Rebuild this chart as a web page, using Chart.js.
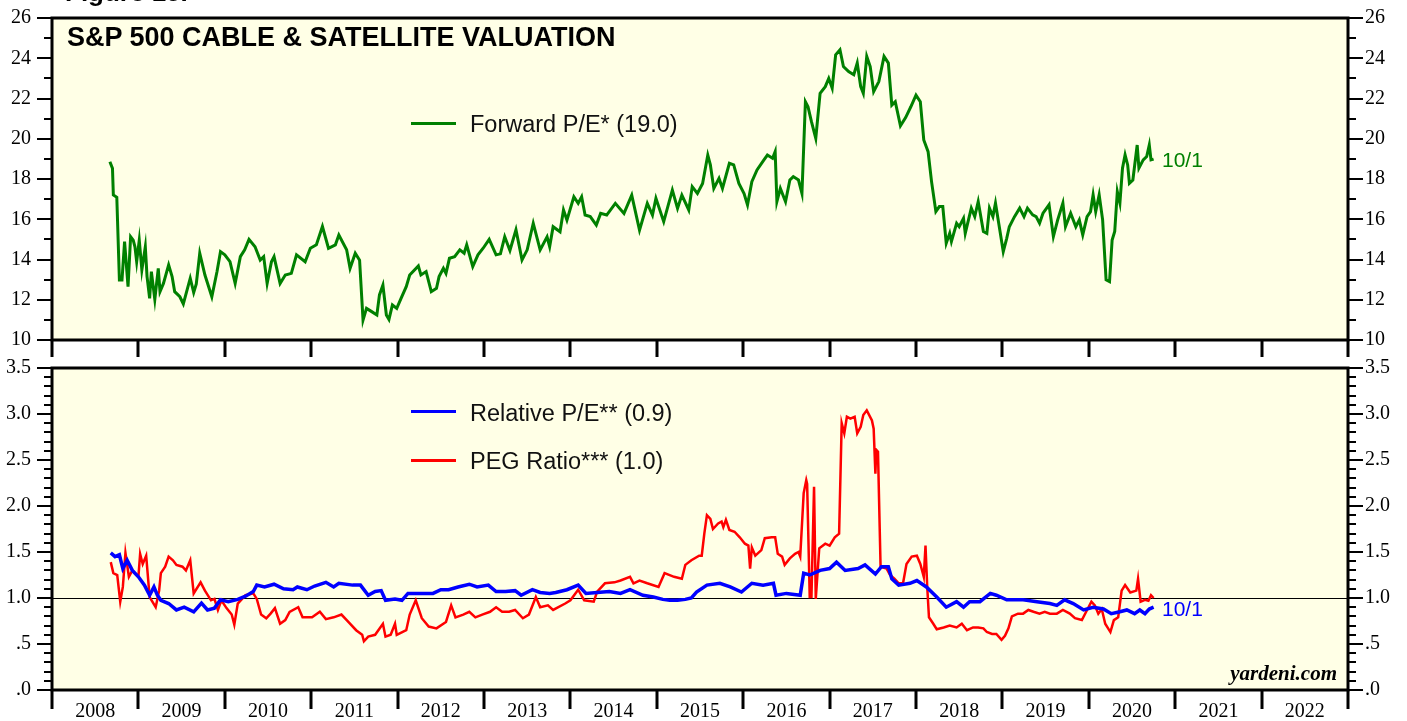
<!DOCTYPE html>
<html>
<head>
<meta charset="utf-8">
<script src="https://cdn.jsdelivr.net/npm/chart.js@4.4.0/dist/chart.umd.min.js"></script>
<style>
    body { margin: 0; background: #fff; }
    #wrap { position: relative; width: 1407px; height: 721px; overflow: hidden; font-family: "Liberation Sans", Arial, sans-serif; }
    #wrap canvas { position: absolute; left: 0; }
    .txt { position: absolute; white-space: nowrap; }
    .sw { position: absolute; left: 411px; width: 45px; }
</style>
</head>
<body>
<div id="wrap">
    <canvas id="chart-top" width="1407" height="360" style="top:0"></canvas>
    <canvas id="chart-bottom" width="1407" height="371" style="top:350px"></canvas>

    <div class="txt" style="left:65px;top:-21px;font-size:26px;line-height:26px;font-weight:bold;">Figure 15.</div>
    <div class="txt" style="left:67px;top:24px;font-size:27px;line-height:27px;font-weight:bold;color:#000;">S&amp;P 500 CABLE &amp; SATELLITE VALUATION</div>

    <div class="sw" style="top:122px;height:3px;background:#008000;"></div>
    <div class="txt" style="left:470px;top:112px;font-size:23.5px;line-height:24px;color:#111;">Forward P/E* (19.0)</div>
    <div class="txt" style="left:1162px;top:149px;font-size:21px;line-height:21px;color:#008000;">10/1</div>

    <div class="sw" style="top:410px;height:3px;background:#0000ff;"></div>
    <div class="txt" style="left:470px;top:401px;font-size:23.5px;line-height:24px;color:#111;">Relative P/E** (0.9)</div>
    <div class="sw" style="top:459px;height:3px;background:#ff0000;"></div>
    <div class="txt" style="left:470px;top:449px;font-size:23.5px;line-height:24px;color:#111;">PEG Ratio*** (1.0)</div>
    <div class="txt" style="left:1162px;top:598px;font-size:21px;line-height:21px;color:#0000ff;">10/1</div>

    <div class="txt" style="right:70px;top:663px;font-size:21px;line-height:21px;font-family:'Liberation Serif','Times New Roman',serif;font-weight:bold;font-style:italic;">yardeni.com</div>
</div>

<script>
// Forward P/E (decimal years)
var fwdYears = [
    2008.67, 2008.70, 2008.71, 2008.75, 2008.78, 2008.81, 2008.84, 2008.88, 2008.91, 2008.94, 2008.96, 2008.98,
    2009.01, 2009.04, 2009.08, 2009.10, 2009.13, 2009.15, 2009.19, 2009.23, 2009.25, 2009.29, 2009.35, 2009.39, 2009.42, 2009.48, 2009.52, 2009.60, 2009.64, 2009.67, 2009.71, 2009.77, 2009.85, 2009.91, 2009.95,
    2010.00, 2010.06, 2010.12, 2010.18, 2010.23, 2010.28, 2010.35, 2010.41, 2010.45, 2010.49, 2010.54, 2010.57, 2010.64, 2010.70, 2010.77, 2010.83, 2010.93, 2010.99,
    2011.06, 2011.13, 2011.20, 2011.28, 2011.32, 2011.41, 2011.45, 2011.51, 2011.56, 2011.60, 2011.64, 2011.70, 2011.76, 2011.79, 2011.83, 2011.87, 2011.90, 2011.94, 2011.99,
    2012.04, 2012.10, 2012.14, 2012.24, 2012.27, 2012.33, 2012.39, 2012.45, 2012.48, 2012.53, 2012.56, 2012.60, 2012.66, 2012.72, 2012.77, 2012.80, 2012.87, 2012.93, 2012.99,
    2013.06, 2013.14, 2013.19, 2013.24, 2013.30, 2013.37, 2013.44, 2013.50, 2013.57, 2013.65, 2013.73, 2013.76, 2013.80, 2013.88, 2013.92, 2013.96,
    2014.04, 2014.09, 2014.13, 2014.17, 2014.23, 2014.30, 2014.35, 2014.42, 2014.52, 2014.62, 2014.71, 2014.80, 2014.89, 2014.95, 2014.99,
    2015.08, 2015.18, 2015.24, 2015.29, 2015.37, 2015.41, 2015.47, 2015.53, 2015.59, 2015.62, 2015.66, 2015.72, 2015.76, 2015.84, 2015.89, 2015.95,
    2016.01, 2016.05, 2016.10, 2016.16, 2016.24, 2016.28, 2016.34, 2016.37, 2016.39, 2016.43, 2016.49, 2016.54, 2016.58, 2016.64, 2016.68, 2016.72, 2016.75, 2016.79, 2016.84, 2016.89, 2016.95, 2016.99,
    2017.03, 2017.07, 2017.12, 2017.16, 2017.22, 2017.28, 2017.32, 2017.36, 2017.39, 2017.43, 2017.47, 2017.51, 2017.57, 2017.63, 2017.68, 2017.72, 2017.76, 2017.82, 2017.88, 2017.94,
    2018.00, 2018.05, 2018.09, 2018.14, 2018.18, 2018.23, 2018.27, 2018.31, 2018.35, 2018.39, 2018.41, 2018.47, 2018.50, 2018.55, 2018.57, 2018.64, 2018.68, 2018.72, 2018.78, 2018.82, 2018.85, 2018.89, 2018.92, 2018.97,
    2019.01, 2019.05, 2019.08, 2019.14, 2019.20, 2019.25, 2019.29, 2019.35, 2019.39, 2019.43, 2019.47, 2019.54, 2019.59, 2019.64, 2019.70, 2019.73, 2019.79, 2019.85, 2019.89, 2019.93, 2019.98,
    2020.02, 2020.05, 2020.08, 2020.12, 2020.16, 2020.20, 2020.24, 2020.27, 2020.30, 2020.33, 2020.36, 2020.39, 2020.42, 2020.45, 2020.47, 2020.51, 2020.56, 2020.58, 2020.63, 2020.67, 2020.70, 2020.72, 2020.75
];
var fwdPE = [
    18.86, 18.53, 17.21, 17.09, 12.98, 12.98, 14.89, 12.65, 15.13, 14.96, 14.63, 13.89,
    14.96, 13.48, 14.63, 13.15, 12.07, 13.40, 12.02, 13.56, 12.40, 12.81, 13.73, 13.15, 12.40, 12.15, 11.79, 13.07, 12.36, 12.79, 14.31, 13.23, 12.15, 13.40, 14.39,
    14.23, 13.89, 12.81, 14.14, 14.48, 15.00, 14.63, 13.97, 14.14, 12.81, 13.89, 14.14, 12.81, 13.23, 13.31, 14.23, 13.89, 14.56,
    14.73, 15.64, 14.56, 14.73, 15.22, 14.48, 13.56, 14.31, 13.97, 10.99, 11.57, 11.41, 11.24, 12.24, 12.73, 11.24, 11.02, 11.74, 11.57,
    12.07, 12.65, 13.23, 13.68, 13.23, 13.40, 12.40, 12.57, 13.15, 13.56, 13.31, 14.06, 14.14, 14.48, 14.31, 14.73, 13.65, 14.23, 14.56,
    15.00, 14.23, 14.28, 15.13, 14.45, 15.48, 13.98, 14.48, 15.80, 14.48, 15.13, 14.64, 15.63, 15.38, 16.46, 15.96,
    17.12, 16.79, 17.12, 16.21, 16.13, 15.71, 16.29, 16.21, 16.79, 16.29, 17.20, 15.46, 16.79, 16.21, 17.04,
    15.88, 17.45, 16.54, 17.20, 16.46, 17.62, 17.28, 17.78, 19.19, 18.70, 17.53, 18.03, 17.53, 18.78, 18.70, 17.78,
    17.28, 16.71, 17.87, 18.45, 18.95, 19.19, 19.03, 19.36, 16.87, 17.53, 16.87, 17.95, 18.12, 17.95, 17.28, 21.84, 21.59, 20.85, 20.02, 22.26, 22.59, 23.00,
    22.51, 24.17, 24.42, 23.59, 23.34, 23.18, 23.76, 22.59, 22.26, 24.09, 23.59, 22.34, 22.84, 24.09, 23.76, 21.67, 21.84, 20.64, 21.05, 21.59,
    22.17, 21.84, 19.94, 19.36, 17.87, 16.38, 16.63, 16.63, 14.81, 15.30, 14.89, 15.80, 15.63, 16.05, 15.30, 16.55, 16.13, 16.88, 15.39, 15.30, 16.55, 16.13, 16.80, 15.47,
    14.39, 15.05, 15.63, 16.13, 16.55, 16.13, 16.55, 16.22, 16.13, 15.80, 16.30, 16.72, 15.14, 15.97, 16.80, 15.63, 16.30, 15.63, 15.97, 15.22, 16.13,
    16.38, 17.21, 16.38, 17.21, 15.97, 12.99, 12.90, 14.97, 15.39, 17.37, 16.80, 18.54, 19.20, 18.70, 17.79, 17.95, 19.69, 18.54, 18.95, 19.12, 19.69, 18.95, 18.99
];

// Relative P/E
var relYears = [
    2008.68, 2008.73, 2008.78, 2008.82, 2008.87, 2008.93,
    2009.00, 2009.07, 2009.13, 2009.18, 2009.22, 2009.26, 2009.35, 2009.44, 2009.53, 2009.64, 2009.73, 2009.80, 2009.88, 2009.95,
    2010.04, 2010.15, 2010.24, 2010.33, 2010.37, 2010.46, 2010.57, 2010.68, 2010.79, 2010.84, 2010.95,
    2011.04, 2011.17, 2011.26, 2011.32, 2011.48, 2011.57, 2011.66, 2011.74, 2011.81, 2011.86, 2011.97,
    2012.05, 2012.12, 2012.28, 2012.41, 2012.50, 2012.59, 2012.70, 2012.83, 2012.92,
    2013.05, 2013.14, 2013.25, 2013.36, 2013.43, 2013.56, 2013.65, 2013.76, 2013.83, 2013.96,
    2014.09, 2014.18, 2014.31, 2014.45, 2014.58, 2014.69, 2014.84, 2014.96,
    2015.07, 2015.15, 2015.24, 2015.33, 2015.40, 2015.46, 2015.58, 2015.73, 2015.85, 2015.98,
    2016.10, 2016.23, 2016.35, 2016.38, 2016.50, 2016.66, 2016.70, 2016.77, 2016.89,
    2017.00, 2017.08, 2017.18, 2017.33, 2017.41, 2017.53, 2017.60, 2017.68, 2017.72, 2017.80, 2017.93,
    2018.01, 2018.12, 2018.24, 2018.35, 2018.47, 2018.55, 2018.62, 2018.74, 2018.86, 2018.93,
    2019.05, 2019.24, 2019.40, 2019.55, 2019.63, 2019.72, 2019.82, 2019.94,
    2020.05, 2020.17, 2020.26, 2020.36, 2020.44, 2020.53, 2020.59, 2020.65, 2020.70, 2020.75
];
var relPE = [
    1.49, 1.45, 1.47, 1.32, 1.41, 1.30,
    1.23, 1.14, 1.03, 1.12, 1.03, 0.975, 0.94, 0.87, 0.90, 0.85, 0.945, 0.87, 0.89, 0.98,
    0.96, 0.985, 1.02, 1.07, 1.14, 1.12, 1.15, 1.10, 1.09, 1.12, 1.09,
    1.13, 1.17, 1.12, 1.16, 1.14, 1.14, 1.03, 1.07, 1.08, 0.975, 0.99,
    0.975, 1.05, 1.05, 1.05, 1.09, 1.09, 1.12, 1.15, 1.12,
    1.14, 1.07, 1.07, 1.08, 1.03, 1.09, 1.06, 1.05, 1.06, 1.09,
    1.14, 1.05, 1.06, 1.07, 1.05, 1.09, 1.03, 1.01,
    0.985, 0.975, 0.975, 0.985, 1.00, 1.065, 1.14, 1.16, 1.12, 1.065,
    1.16, 1.14, 1.16, 1.03, 1.05, 1.03, 1.27, 1.25, 1.30,
    1.32, 1.39, 1.30, 1.32, 1.36, 1.26, 1.34, 1.34, 1.21, 1.14, 1.16,
    1.19, 1.12, 1.01, 0.90, 0.96, 0.90, 0.96, 0.96, 1.05, 1.03,
    0.98, 0.98, 0.96, 0.94, 0.92, 0.98, 0.94, 0.87,
    0.90, 0.88, 0.83, 0.85, 0.87, 0.83, 0.87, 0.83, 0.88, 0.90
];

// PEG ratio
var pegYears = [
    2008.68, 2008.71, 2008.755, 2008.79, 2008.82, 2008.85, 2008.89, 2008.93, 2008.96,
    2009.00, 2009.02, 2009.05, 2009.09, 2009.13, 2009.20, 2009.24, 2009.26, 2009.31, 2009.35, 2009.40, 2009.44, 2009.51, 2009.55, 2009.60, 2009.64, 2009.72, 2009.77, 2009.84, 2009.88, 2009.92, 2009.96,
    2010.02, 2010.08, 2010.11, 2010.15, 2010.24, 2010.33, 2010.37, 2010.42, 2010.48, 2010.53, 2010.58, 2010.64, 2010.70, 2010.75, 2010.85, 2010.90,
    2011.01, 2011.10, 2011.17, 2011.26, 2011.35, 2011.43, 2011.52, 2011.59, 2011.61, 2011.66, 2011.74, 2011.83, 2011.86, 2011.92, 2011.97, 2011.99,
    2012.10, 2012.14, 2012.21, 2012.28, 2012.36, 2012.45, 2012.56, 2012.62, 2012.67, 2012.76, 2012.83, 2012.90, 2012.98,
    2013.07, 2013.14, 2013.21, 2013.29, 2013.36, 2013.45, 2013.52, 2013.60, 2013.65, 2013.74, 2013.80, 2013.94,
    2014.00, 2014.09, 2014.16, 2014.27, 2014.31, 2014.40, 2014.51, 2014.58, 2014.69, 2014.73, 2014.80, 2014.89,
    2015.02, 2015.09, 2015.20, 2015.29, 2015.33, 2015.40, 2015.49, 2015.52, 2015.55, 2015.58, 2015.62, 2015.65, 2015.71, 2015.75, 2015.77, 2015.80, 2015.84, 2015.90, 2015.96,
    2016.02, 2016.06, 2016.08, 2016.10, 2016.14, 2016.21, 2016.25, 2016.33, 2016.37, 2016.40, 2016.45, 2016.48, 2016.54, 2016.60, 2016.64, 2016.66, 2016.70, 2016.73, 2016.74, 2016.77, 2016.79, 2016.82, 2016.84, 2016.88, 2016.95,
    2017.00, 2017.06, 2017.11, 2017.14, 2017.17, 2017.20, 2017.24, 2017.29, 2017.32, 2017.36, 2017.39, 2017.43, 2017.49, 2017.51, 2017.53, 2017.54, 2017.56, 2017.59, 2017.66, 2017.70, 2017.75, 2017.80, 2017.85, 2017.89, 2017.95,
    2018.01, 2018.05, 2018.09, 2018.11, 2018.13, 2018.15, 2018.20, 2018.24, 2018.32, 2018.39, 2018.47, 2018.53, 2018.59, 2018.66, 2018.72, 2018.78, 2018.82, 2018.88, 2018.93, 2018.99,
    2019.03, 2019.07, 2019.11, 2019.18, 2019.24, 2019.30, 2019.36, 2019.43, 2019.49, 2019.55, 2019.63, 2019.70, 2019.78, 2019.84, 2019.92, 2019.98,
    2020.03, 2020.07, 2020.11, 2020.15, 2020.19, 2020.25, 2020.29, 2020.34, 2020.38, 2020.42, 2020.48, 2020.55, 2020.57, 2020.60, 2020.65, 2020.69, 2020.72, 2020.75
];
var pegRatio = [
    1.39, 1.27, 1.25, 0.96, 1.12, 1.49, 1.23, 1.30, 1.27,
    1.23, 1.48, 1.37, 1.46, 1.01, 0.90, 1.08, 1.27, 1.34, 1.45, 1.41, 1.36, 1.34, 1.30, 1.41, 1.05, 1.17, 1.08, 0.975, 0.99, 0.87, 0.975,
    0.89, 0.82, 0.71, 0.94, 1.03, 1.05, 0.99, 0.82, 0.78, 0.83, 0.89, 0.72, 0.76, 0.85, 0.90, 0.79,
    0.79, 0.85, 0.77, 0.79, 0.82, 0.74, 0.65, 0.60, 0.53, 0.58, 0.60, 0.72, 0.58, 0.60, 0.72, 0.60,
    0.65, 0.82, 0.975, 0.78, 0.69, 0.67, 0.74, 0.92, 0.79, 0.82, 0.85, 0.79, 0.82,
    0.85, 0.90, 0.85, 0.85, 0.87, 0.78, 0.82, 1.01, 0.90, 0.92, 0.87, 0.94,
    0.975, 1.09, 0.975, 0.96, 1.07, 1.16, 1.17, 1.19, 1.23, 1.16, 1.19, 1.16,
    1.12, 1.27, 1.23, 1.21, 1.36, 1.41, 1.46, 1.46, 1.70, 1.90, 1.86, 1.75, 1.81, 1.83, 1.77, 1.85, 1.74, 1.72, 1.66,
    1.59, 1.57, 1.32, 1.55, 1.46, 1.52, 1.65, 1.66, 1.66, 1.48, 1.45, 1.36, 1.43, 1.48, 1.50, 1.45, 2.14, 2.28, 2.24, 1.01, 1.01, 2.21, 0.99, 1.54, 1.59,
    1.57, 1.66, 1.70, 2.90, 2.79, 2.97, 2.95, 2.97, 2.79, 2.86, 2.99, 3.04, 2.93, 2.84, 2.35, 2.61, 2.59, 1.34, 1.32, 1.25, 1.21, 1.16, 1.16, 1.37, 1.45,
    1.46, 1.37, 1.23, 1.57, 1.12, 0.79, 0.72, 0.66, 0.68, 0.70, 0.68, 0.72, 0.65, 0.68, 0.68, 0.67, 0.63, 0.61, 0.61, 0.546,
    0.59, 0.67, 0.80, 0.83, 0.83, 0.87, 0.85, 0.83, 0.85, 0.83, 0.83, 0.87, 0.83, 0.78, 0.76, 0.87,
    0.96, 0.92, 0.83, 0.88, 0.72, 0.63, 0.76, 0.79, 1.08, 1.14, 1.06, 1.08, 1.21, 0.96, 0.98, 0.97, 1.03, 1.00
];

var yearMin = 2008;
var yearMax = 2023;

var SERIF = '"Liberation Serif", "Times New Roman", serif';
var PANEL_BG = '#FFFFE6';

function zip(xs, ys) {
    var out = [];
    var n = Math.min(xs.length, ys.length);
    for (var i = 0; i < n; i++) out.push({ x: xs[i], y: ys[i] });
    return out;
}

// no extra room for first/last labels, the panels are placed by hand
function noPadding(s) {
    s.paddingTop = 0; s.paddingBottom = 0; s.paddingLeft = 0; s.paddingRight = 0;
}

// background, 1.0 line, frame and tick marks
var framePlugin = {
    id: 'frame',
    beforeDraw: function (chart) {
        var a = chart.chartArea, ctx = chart.ctx;
        ctx.save();
        ctx.fillStyle = PANEL_BG;
        ctx.fillRect(a.left, a.top, a.right - a.left, a.bottom - a.top);
        ctx.restore();
    },
    beforeDatasetsDraw: function (chart, args, opts) {
        if (opts.refLine == null) return;
        var a = chart.chartArea, ctx = chart.ctx;
        var py = Math.round(chart.scales.y.getPixelForValue(opts.refLine)) + 0.5;
        ctx.save();
        ctx.strokeStyle = '#000';
        ctx.lineWidth = 1;
        ctx.beginPath();
        ctx.moveTo(a.left, py);
        ctx.lineTo(a.right, py);
        ctx.stroke();
        ctx.restore();
    },
    afterDraw: function (chart, args, opts) {
        var a = chart.chartArea, ctx = chart.ctx;
        var y = chart.scales.y, x = chart.scales.x;
        ctx.save();
        ctx.strokeStyle = '#000';
        ctx.lineWidth = 2;
        ctx.beginPath();
        var n = Math.round((y.max - y.min) / opts.minorStep);
        for (var i = 0; i <= n; i++) {
            var v = y.min + i * opts.minorStep;
            var r = v / opts.majorStep;
            var len = Math.abs(r - Math.round(r)) < 1e-6 ? 15 : 8;
            var py = Math.round(y.getPixelForValue(v));
            ctx.moveTo(a.left - len, py); ctx.lineTo(a.left, py);
            ctx.moveTo(a.right, py); ctx.lineTo(a.right + len, py);
        }
        ctx.stroke();

        ctx.lineWidth = 3;
        ctx.beginPath();
        for (var yr = yearMin; yr <= yearMax; yr++) {
            var px = Math.round(x.getPixelForValue(yr));
            ctx.moveTo(px, a.bottom); ctx.lineTo(px, a.bottom + opts.yearTick);
        }
        ctx.stroke();

        ctx.strokeRect(a.left, a.top, a.right - a.left, a.bottom - a.top);
        ctx.restore();
    }
};

function yAxis(pos, min, max, step, fmt) {
    return {
        type: 'linear', position: pos, display: true, min: min, max: max,
        grid: { display: false, drawTicks: false }, border: { display: false },
        ticks: {
            stepSize: step, autoSkip: false, color: '#000', padding: pos === 'left' ? 21 : 17,
            font: { family: SERIF, size: 20 },
            callback: fmt
        },
        afterFit: function (s) {
            s.width = pos === 'left' ? 52 : 59;
            noPadding(s);
        }
    };
}

function makePanel(id, datasets, yMin, yMax, yStep, fmt, frameOpts, showYears, xHeight) {
    return new Chart(document.getElementById(id), {
        type: 'line',
        data: { datasets: datasets },
        plugins: [framePlugin],
        options: {
            responsive: false,
            animation: false,
            layout: { padding: { top: 18, left: 0, right: 0, bottom: 0 } },
            elements: { point: { radius: 0 }, line: { tension: 0 } },
            plugins: { legend: { display: false }, tooltip: { enabled: false }, frame: frameOpts },
            scales: {
                x: {
                    type: 'linear', min: yearMin, max: yearMax,
                    grid: { display: false, drawTicks: false }, border: { display: false },
                    ticks: {
                        display: showYears, stepSize: 1, autoSkip: false, maxRotation: 0,
                        labelOffset: 43.2, padding: 10, color: '#000',
                        font: { family: SERIF, size: 20 },
                        callback: function (v) { return v < yearMax ? String(v) : ''; }
                    },
                    afterFit: function (s) {
                        s.height = xHeight;
                        noPadding(s);
                    }
                },
                y: yAxis('left', yMin, yMax, yStep, fmt),
                y2: yAxis('right', yMin, yMax, yStep, fmt)
            }
        }
    });
}

var fmtTop = function (v) { return String(v); };
var fmtBottom = function (v) {
    var s = v.toFixed(1);
    return v < 1 ? s.substring(1) : s;
};

makePanel('chart-top', [{
    data: zip(fwdYears, fwdPE), borderColor: '#008000', borderWidth: 3
}], 10, 26, 2, fmtTop, { minorStep: 1, majorStep: 2, yearTick: 17, refLine: null }, false, 20);

makePanel('chart-bottom', [{
    data: zip(relYears, relPE), borderColor: '#0000ff', borderWidth: 3.5
}, {
    data: zip(pegYears, pegRatio), borderColor: '#ff0000', borderWidth: 2.5
}], 0, 3.5, 0.5, fmtBottom, { minorStep: 0.1, majorStep: 0.5, yearTick: 19, refLine: 1 }, true, 31);
</script>
</body>
</html>
